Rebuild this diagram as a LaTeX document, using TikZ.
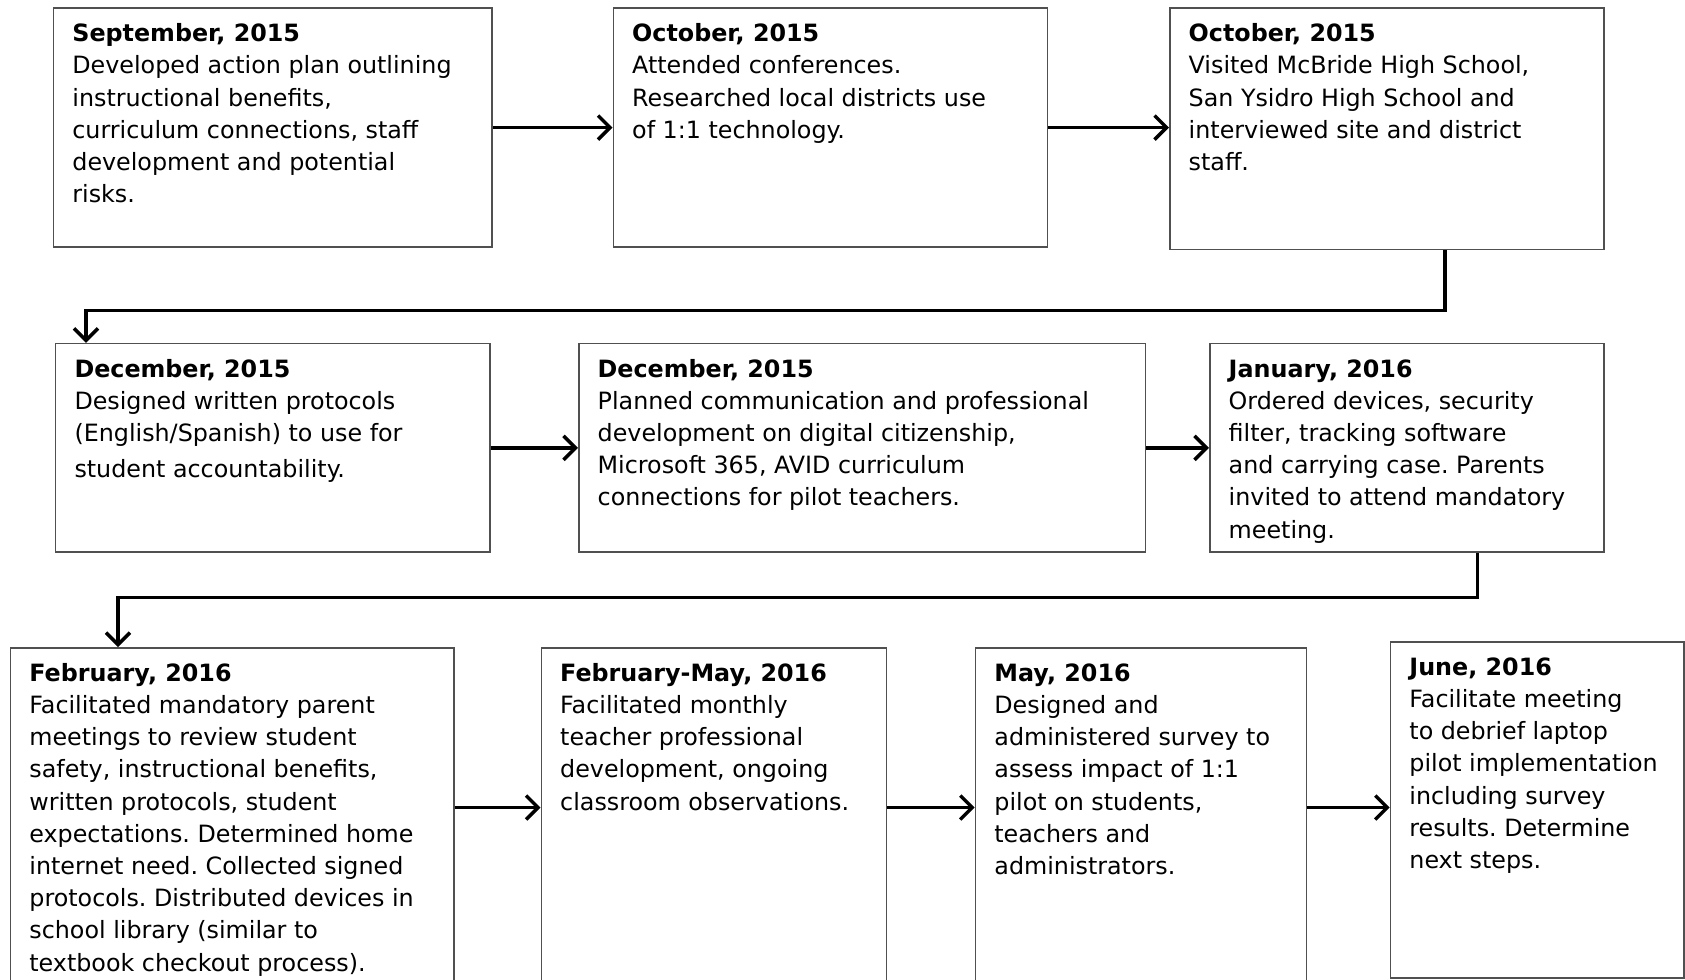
\documentclass[tikz,border=0pt]{standalone}
\usepackage{fontspec}
\setmainfont{DejaVu Sans}
\usetikzlibrary{arrows.meta}
\definecolor{boxgray}{HTML}{505050}
\frenchspacing
\begin{document}
\begin{tikzpicture}[x=1pt,y=-1pt,
  box/.style={draw=boxgray, line width=1.6pt, rectangle, inner sep=0pt, anchor=north west},
  txt/.style={anchor=north west, inner sep=0pt, align=left, font=\fontsize{23.8}{32.2}\selectfont},
  conn/.style={line width=3.5pt, -{Straight Barb[length=12pt,width=24pt]}}]
\useasboundingbox (0,0) rectangle (1685,979);
\clip (0,0) rectangle (1685,979);
% row 1
\node[box, minimum width=438.3pt, minimum height=238.5pt] (b1) at (52.7,7.5) {};
\node[box, minimum width=434.2pt, minimum height=238.5pt] (b2) at (612.5,7.5) {};
\node[box, minimum width=434pt, minimum height=241pt] (b3) at (1169,7.5) {};
% row 2
\node[box, minimum width=434.2pt, minimum height=208.5pt] (b4) at (54.8,342.8) {};
\node[box, minimum width=566.5pt, minimum height=208.5pt] (b5) at (578,342.8) {};
\node[box, minimum width=394pt, minimum height=208.5pt] (b6) at (1209,342.8) {};
% row 3
\node[box, minimum width=443.5pt, minimum height=360pt] (b7) at (9.7,647) {};
\node[box, minimum width=345pt, minimum height=360pt] (b8) at (540.5,647) {};
\node[box, minimum width=331pt, minimum height=360pt] (b9) at (974.7,647) {};
\node[box, minimum width=293.5pt, minimum height=336pt] (b10) at (1389.7,641) {};
% texts
\node[txt] (t1) at ([shift={(19.5,11.5)}]b1.north west) {\strut\textbf{September, 2015}\\Developed action plan outlining\\instructional benefits,\\curriculum connections, staff\\development and potential\\risks.};
\node[txt] (t2) at ([shift={(19.5,11.5)}]b2.north west) {\strut\textbf{October, 2015}\\Attended conferences.\\Researched local districts use\\of 1:1 technology.};
\node[txt] (t3) at ([shift={(19.5,11.5)}]b3.north west) {\strut\textbf{October, 2015}\\Visited McBride High School,\\San Ysidro High School and\\interviewed site and district\\staff.};
\node[txt] (t4) at ([shift={(19.5,11.5)}]b4.north west) {\strut\textbf{December, 2015}\\Designed written protocols\\(English/Spanish) to use for\\[4pt]student accountability.};
\node[txt] (t5) at ([shift={(19.5,11.5)}]b5.north west) {\strut\textbf{December, 2015}\\Planned communication and professional\\development on digital citizenship,\\Microsoft 365, AVID curriculum\\connections for pilot teachers.};
\node[txt] (t6) at ([shift={(19.5,11.5)}]b6.north west) {\strut\textbf{January, 2016}\\Ordered devices, security\\filter, tracking software\\and carrying case. Parents\\invited to attend mandatory\\meeting.};
\node[txt] (t7) at ([shift={(19.5,11.5)}]b7.north west) {\strut\textbf{February, 2016}\\Facilitated mandatory parent\\meetings to review student\\safety, instructional benefits,\\written protocols, student\\expectations. Determined home\\internet need. Collected signed\\protocols. Distributed devices in\\school library (similar to\\textbook checkout process).};
\node[txt] (t8) at ([shift={(19.5,11.5)}]b8.north west) {\strut\textbf{February-May, 2016}\\Facilitated monthly\\teacher professional\\development, ongoing\\classroom observations.};
\node[txt] (t9) at ([shift={(19.5,11.5)}]b9.north west) {\strut\textbf{May, 2016}\\Designed and\\administered survey to\\assess impact of 1:1\\pilot on students,\\teachers and\\administrators.};
\node[txt] (t10) at ([shift={(19.5,11.5)}]b10.north west) {\strut\textbf{June, 2016}\\Facilitate meeting\\to debrief laptop\\pilot implementation\\including survey\\results. Determine\\next steps.};
% connectors
\coordinate (c1) at (1445,310.7);
\coordinate (c2) at (86,310.7);
\coordinate (c3) at (1477.6,597.5);
\coordinate (c4) at (118,597.5);
\coordinate (r3) at (0,807.5);
\draw[conn] (b1.east) -- (b2.west);
\draw[conn] (b2.east) -- (b3.west |- b2.east);
\draw[conn] (b3.south -| c1) -- (c1) -- (c2) -- (b4.north -| c2);
\draw[conn] (b4.east) -- (b5.west);
\draw[conn] (b5.east) -- (b6.west);
\draw[conn] (b6.south -| c3) -- (c3) -- (c4) -- (b7.north -| c4);
\draw[conn] (b7.east |- r3) -- (b8.west |- r3);
\draw[conn] (b8.east |- r3) -- (b9.west |- r3);
\draw[conn] (b9.east |- r3) -- (b10.west |- r3);
\end{tikzpicture}
\end{document}
